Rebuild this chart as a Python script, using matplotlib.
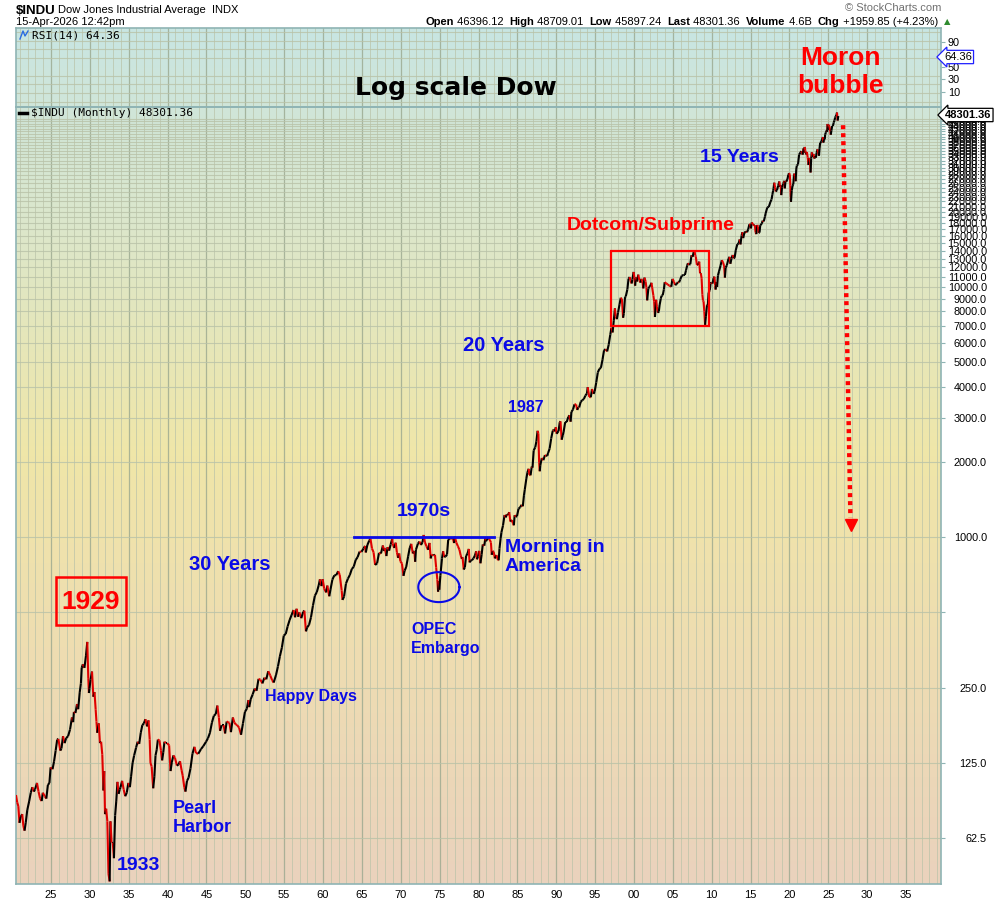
import numpy as np
import matplotlib.pyplot as plt
from matplotlib.collections import LineCollection
from matplotlib.patches import Rectangle
from matplotlib.colors import LinearSegmentedColormap

plt.rcParams['font.family'] = ['Liberation Sans', 'DejaVu Sans']

# Dow Jones Industrial Average (decimal year, close)
years = [
    1920.5, 1920.65, 1920.8, 1920.95, 1921.1, 1921.3, 1921.45, 1921.6, 1921.75, 1921.95,
    1922.2, 1922.4, 1922.6, 1922.8, 1922.95, 1923.2, 1923.4, 1923.6, 1923.8, 1923.95,
    1924.2, 1924.4, 1924.6, 1924.8, 1924.95, 1925.2, 1925.4, 1925.6, 1925.8, 1925.95,
    1926.2, 1926.35, 1926.55, 1926.75, 1926.95, 1927.2, 1927.45, 1927.7, 1927.85, 1927.95,
    1928.15, 1928.35, 1928.5, 1928.7, 1928.85, 1928.95, 1929.1, 1929.3, 1929.5, 1929.67,
    1929.8, 1929.88, 1929.95, 1930.1, 1930.28, 1930.45, 1930.6, 1930.75, 1930.85, 1930.95,
    1931.15, 1931.3, 1931.45, 1931.6, 1931.75, 1931.85, 1931.95, 1932.1, 1932.25, 1932.4,
    1932.55, 1932.65, 1932.8, 1932.95, 1933.1, 1933.25, 1933.4, 1933.55, 1933.7, 1933.85,
    1933.95, 1934.15, 1934.35, 1934.55, 1934.75, 1934.95, 1935.15, 1935.3, 1935.5, 1935.7,
    1935.95, 1936.15, 1936.35, 1936.55, 1936.75, 1936.95, 1937.15, 1937.35, 1937.55, 1937.7,
    1937.8, 1937.95, 1938.15, 1938.3, 1938.45, 1938.6, 1938.75, 1938.95, 1939.15, 1939.3,
    1939.45, 1939.6, 1939.75, 1939.95, 1940.2, 1940.38, 1940.55, 1940.75, 1940.95, 1941.2,
    1941.4, 1941.6, 1941.8, 1941.95, 1942.15, 1942.3, 1942.5, 1942.7, 1942.95, 1943.2,
    1943.45, 1943.65, 1943.95, 1944.3, 1944.6, 1944.95, 1945.2, 1945.45, 1945.7, 1945.95,
    1946.2, 1946.4, 1946.6, 1946.75, 1946.95, 1947.2, 1947.4, 1947.6, 1947.8, 1947.95,
    1948.15, 1948.4, 1948.6, 1948.8, 1948.95, 1949.2, 1949.45, 1949.7, 1949.95, 1950.2,
    1950.4, 1950.5, 1950.7, 1950.95, 1951.2, 1951.45, 1951.7, 1951.95, 1952.2, 1952.45,
    1952.7, 1952.95, 1953.2, 1953.45, 1953.65, 1953.95, 1954.2, 1954.45, 1954.7, 1954.95,
    1955.2, 1955.45, 1955.7, 1955.95, 1956.2, 1956.4, 1956.6, 1956.8, 1956.95, 1957.2,
    1957.45, 1957.6, 1957.8, 1957.95, 1958.2, 1958.45, 1958.7, 1958.95, 1959.2, 1959.45,
    1959.6, 1959.8, 1959.95, 1960.15, 1960.4, 1960.55, 1960.8, 1960.95, 1961.2, 1961.45,
    1961.7, 1961.95, 1962.15, 1962.4, 1962.5, 1962.7, 1962.95, 1963.2, 1963.45, 1963.7,
    1963.95, 1964.2, 1964.45, 1964.7, 1964.95, 1965.2, 1965.4, 1965.5, 1965.7, 1965.95,
    1966.1, 1966.3, 1966.5, 1966.7, 1966.95, 1967.2, 1967.45, 1967.7, 1967.85, 1967.95,
    1968.15, 1968.3, 1968.5, 1968.7, 1968.9, 1968.95, 1969.15, 1969.35, 1969.5, 1969.65,
    1969.8, 1969.95, 1970.15, 1970.35, 1970.5, 1970.7, 1970.95, 1971.15, 1971.35, 1971.55,
    1971.75, 1971.85, 1971.95, 1972.2, 1972.4, 1972.6, 1972.8, 1972.95, 1973.1, 1973.3,
    1973.5, 1973.7, 1973.85, 1973.95, 1974.2, 1974.4, 1974.55, 1974.7, 1974.8, 1974.9,
    1974.95, 1975.1, 1975.3, 1975.45, 1975.6, 1975.75, 1975.95, 1976.1, 1976.3, 1976.5,
    1976.7, 1976.85, 1976.95, 1977.15, 1977.35, 1977.55, 1977.7, 1977.85, 1977.95, 1978.1,
    1978.25, 1978.4, 1978.6, 1978.75, 1978.85, 1978.95, 1979.15, 1979.35, 1979.55, 1979.7,
    1979.8, 1979.95, 1980.1, 1980.25, 1980.4, 1980.55, 1980.75, 1980.88, 1980.95, 1981.1,
    1981.3, 1981.45, 1981.6, 1981.7, 1981.85, 1981.95, 1982.1, 1982.3, 1982.5, 1982.6,
    1982.7, 1982.85, 1982.95, 1983.15, 1983.35, 1983.5, 1983.65, 1983.8, 1983.95, 1984.1,
    1984.3, 1984.45, 1984.55, 1984.65, 1984.8, 1984.95, 1985.15, 1985.35, 1985.55, 1985.7,
    1985.85, 1985.95, 1986.15, 1986.3, 1986.45, 1986.55, 1986.7, 1986.85, 1986.95, 1987.1,
    1987.3, 1987.45, 1987.6, 1987.7, 1987.8, 1987.88, 1987.95, 1988.15, 1988.35, 1988.55,
    1988.7, 1988.85, 1988.95, 1989.15, 1989.35, 1989.55, 1989.7, 1989.8, 1989.95, 1990.05,
    1990.3, 1990.45, 1990.55, 1990.7, 1990.85, 1990.95, 1991.15, 1991.35, 1991.55, 1991.7,
    1991.85, 1991.95, 1992.15, 1992.35, 1992.55, 1992.7, 1992.85, 1992.95, 1993.15, 1993.35,
    1993.55, 1993.75, 1993.95, 1994.05, 1994.25, 1994.45, 1994.6, 1994.8, 1994.95, 1995.15,
    1995.35, 1995.55, 1995.75, 1995.95, 1996.15, 1996.35, 1996.55, 1996.75, 1996.95, 1997.1,
    1997.25, 1997.4, 1997.55, 1997.65, 1997.8, 1997.95, 1998.15, 1998.3, 1998.45, 1998.6,
    1998.7, 1998.85, 1998.95, 1999.15, 1999.3, 1999.45, 1999.55, 1999.7, 1999.8, 1999.95,
    2000.05, 2000.15, 2000.25, 2000.4, 2000.55, 2000.7, 2000.85, 2000.95, 2001.1, 2001.2,
    2001.35, 2001.5, 2001.6, 2001.7, 2001.85, 2001.95, 2002.1, 2002.25, 2002.35, 2002.5,
    2002.6, 2002.7, 2002.8, 2002.85, 2002.95, 2003.1, 2003.2, 2003.3, 2003.45, 2003.55,
    2003.7, 2003.85, 2003.95, 2004.15, 2004.35, 2004.55, 2004.7, 2004.8, 2004.95, 2005.15,
    2005.3, 2005.5, 2005.65, 2005.8, 2005.95, 2006.15, 2006.35, 2006.55, 2006.7, 2006.85,
    2006.95, 2007.1, 2007.25, 2007.4, 2007.55, 2007.7, 2007.8, 2007.88, 2007.95, 2008.1,
    2008.25, 2008.4, 2008.5, 2008.6, 2008.7, 2008.8, 2008.88, 2008.95, 2009.05, 2009.15,
    2009.25, 2009.4, 2009.5, 2009.6, 2009.75, 2009.85, 2009.95, 2010.1, 2010.25, 2010.35,
    2010.45, 2010.5, 2010.6, 2010.7, 2010.8, 2010.95, 2011.15, 2011.3, 2011.45, 2011.6,
    2011.7, 2011.8, 2011.95, 2012.15, 2012.3, 2012.4, 2012.55, 2012.7, 2012.85, 2012.95,
    2013.1, 2013.3, 2013.45, 2013.6, 2013.7, 2013.85, 2013.95, 2014.05, 2014.2, 2014.4,
    2014.55, 2014.7, 2014.85, 2014.95, 2015.05, 2015.15, 2015.3, 2015.45, 2015.55, 2015.65,
    2015.75, 2015.85, 2015.95, 2016.05, 2016.15, 2016.25, 2016.45, 2016.55, 2016.7, 2016.85,
    2016.95, 2017.15, 2017.35, 2017.55, 2017.7, 2017.8, 2017.9, 2017.95, 2018.05, 2018.15,
    2018.25, 2018.4, 2018.55, 2018.7, 2018.8, 2018.88, 2018.95, 2019.05, 2019.2, 2019.35,
    2019.4, 2019.5, 2019.6, 2019.75, 2019.85, 2019.95, 2020.05, 2020.12, 2020.2, 2020.3,
    2020.4, 2020.5, 2020.6, 2020.7, 2020.8, 2020.88, 2020.95, 2021.1, 2021.25, 2021.4,
    2021.55, 2021.7, 2021.8, 2021.88, 2021.95, 2022.05, 2022.15, 2022.25, 2022.35, 2022.45,
    2022.55, 2022.65, 2022.72, 2022.8, 2022.88, 2022.95, 2023.1, 2023.2, 2023.3, 2023.4,
    2023.5, 2023.6, 2023.7, 2023.8, 2023.88, 2023.95, 2024.1, 2024.2, 2024.3, 2024.35,
    2024.45, 2024.55, 2024.6, 2024.7, 2024.8, 2024.85, 2024.9, 2024.95, 2025.05, 2025.15,
    2025.25, 2025.32, 2025.4, 2025.5, 2025.6, 2025.7, 2025.8, 2025.88, 2025.95, 2026.05,
    2026.12, 2026.2, 2026.29,
]
dow = [
    93, 87, 84, 72, 76, 78, 70, 67, 72, 81,
    88, 95, 100, 96, 98, 104, 96, 90, 88, 95,
    92, 90, 102, 104, 120, 118, 127, 140, 155, 156,
    140, 143, 160, 150, 157, 160, 170, 190, 182, 200,
    198, 215, 205, 240, 260, 300, 310, 300, 335, 381,
    273, 238, 248, 270, 290, 230, 240, 204, 183, 165,
    180, 150, 152, 135, 97, 116, 78, 82, 73, 45,
    42, 73, 60, 60, 52, 77, 88, 105, 94, 98,
    100, 106, 98, 92, 95, 104, 100, 110, 125, 134,
    144, 152, 149, 165, 177, 180, 187, 175, 185, 155,
    125, 121, 99, 110, 134, 141, 155, 154, 140, 128,
    138, 152, 150, 150, 147, 116, 126, 134, 131, 122,
    123, 127, 117, 111, 100, 96, 106, 109, 119, 136,
    145, 137, 136, 142, 146, 152, 157, 165, 181, 193,
    196, 212, 190, 168, 177, 177, 164, 183, 182, 181,
    166, 190, 181, 178, 177, 173, 162, 180, 200, 206,
    223, 209, 225, 235, 248, 243, 271, 269, 260, 274,
    270, 291, 280, 268, 262, 281, 304, 334, 361, 404,
    410, 440, 466, 488, 511, 478, 517, 480, 500, 474,
    503, 508, 420, 435, 446, 478, 532, 583, 603, 643,
    678, 637, 679, 622, 601, 640, 580, 615, 676, 703,
    705, 731, 706, 611, 561, 578, 652, 682, 706, 745,
    762, 810, 832, 875, 874, 900, 922, 868, 930, 969,
    985, 900, 870, 774, 785, 865, 860, 926, 880, 905,
    840, 912, 883, 935, 985, 944, 905, 950, 870, 826,
    860, 800, 785, 700, 734, 760, 839, 905, 940, 860,
    880, 797, 890, 940, 960, 930, 955, 1020, 955, 920,
    890, 948, 822, 850, 846, 850, 757, 678, 605, 665,
    616, 703, 821, 878, 832, 836, 852, 975, 990, 985,
    991, 947, 1004, 950, 920, 890, 847, 818, 831, 742,
    757, 840, 862, 897, 792, 805, 808, 822, 846, 878,
    815, 838, 881, 786, 850, 935, 924, 993, 964, 975,
    998, 976, 952, 850, 880, 875, 822, 848, 811, 808,
    901, 991, 1046, 1112, 1226, 1199, 1233, 1225, 1258, 1154,
    1170, 1132, 1115, 1224, 1207, 1212, 1299, 1315, 1347, 1328,
    1472, 1546, 1709, 1818, 1876, 1775, 1767, 1915, 1896, 2223,
    2286, 2418, 2662, 2596, 1994, 1834, 1939, 2072, 2031, 2129,
    2113, 2115, 2169, 2258, 2480, 2661, 2693, 2645, 2753, 2591,
    2656, 2880, 2905, 2452, 2560, 2634, 2882, 2888, 3024, 3069,
    2895, 3169, 3235, 3397, 3394, 3226, 3305, 3301, 3478, 3528,
    3567, 3681, 3754, 3978, 3636, 3625, 3913, 3739, 3834, 4157,
    4556, 4708, 4756, 5117, 5587, 5643, 5529, 5882, 6448, 6877,
    6584, 7331, 8223, 7622, 7442, 7908, 8546, 9063, 8952, 7539,
    7843, 9117, 9181, 9786, 10789, 10971, 10655, 10337, 10729, 11497,
    10940, 10128, 10922, 10522, 11215, 10651, 10415, 10788, 10495, 9879,
    10912, 10523, 9950, 8848, 9852, 10021, 10106, 10404, 9925, 9243,
    8737, 7592, 8397, 8896, 8342, 7891, 7992, 8480, 8985, 9233,
    9275, 9782, 10454, 10357, 10225, 10140, 10080, 10027, 10783, 10504,
    10193, 10275, 10481, 10440, 10718, 11109, 11168, 11185, 11679, 12221,
    12463, 12269, 12354, 13408, 13212, 13896, 13930, 13371, 13264, 12266,
    12262, 12638, 11350, 11378, 10851, 9325, 8829, 8776, 8000, 7062,
    7609, 8500, 8447, 9496, 9713, 10345, 10428, 10325, 10857, 11009,
    10137, 9774, 10466, 10014, 11118, 11578, 12226, 12810, 12570, 12143,
    10913, 11955, 12218, 12952, 13212, 12393, 13009, 13437, 13025, 13104,
    14054, 14839, 14910, 15500, 14810, 16086, 16577, 15699, 16458, 16717,
    16563, 17043, 17828, 17823, 17165, 18133, 17840, 17620, 17690, 16528,
    16285, 17720, 17425, 16466, 16517, 17685, 17930, 18432, 18308, 19124,
    19763, 20812, 20941, 21891, 22405, 23377, 24272, 24719, 26149, 25029,
    24103, 24416, 25415, 26458, 25116, 25538, 23327, 24999, 25929, 26593,
    24815, 26600, 26403, 27046, 28051, 28538, 28256, 25409, 21917, 24346,
    25383, 25813, 28430, 27782, 26502, 29639, 30606, 30932, 33875, 34529,
    34935, 33844, 35820, 34484, 36338, 35132, 33893, 34678, 32977, 30775,
    32845, 31510, 28725, 32733, 34590, 33147, 34086, 32657, 33274, 32908,
    34408, 35560, 34722, 33508, 35951, 37690, 38150, 38996, 39807, 37816,
    38686, 39119, 40843, 41563, 42330, 41763, 44910, 42544, 44544, 43841,
    42001, 40669, 42270, 44094, 44130, 45545, 46397, 47716, 48063, 48892,
    49900, 46341, 48301,
]

x_ticks = list(range(1925, 2040, 5))
x_labels = [f"{y % 100:02d}" for y in x_ticks]
y_ticks = [62.5, 125, 250, 500] + list(range(1000, 48000, 1000))
y_labels = ["" if v == 500 else f"{v:.1f}" for v in y_ticks]
rsi_ticks = [10, 30, 50, 70, 90]
last_value = 48301.36
rsi_last = 64.36
header_stats = [("Open", "46396.12"), ("High", "48709.01"), ("Low", "45897.24"),
                ("Last", "48301.36"), ("Volume", "4.6B"), ("Chg", "+1959.85 (+4.23%)")]

W, H = 1000, 900
L, R, T_RSI, T_MAIN, B = 16, 941, 28, 107, 884


def fx(px):
    return px / W


def fy(py):
    return 1 - py / H


fig = plt.figure(figsize=(10, 9), dpi=100)
fig.patch.set_facecolor('white')

# gradient background behind both panels
bg = fig.add_axes([fx(L), fy(B), fx(R) - fx(L), fy(T_RSI) - fy(B)], zorder=0)
cmap = LinearSegmentedColormap.from_list('bg', [
    (0.0, '#c8e5e2'), (0.22, '#dbe7cc'), (0.5, '#f0e6a8'),
    (0.75, '#eedcb2'), (1.0, '#ead2bd')])
bg.imshow(np.linspace(0, 1, 256).reshape(-1, 1), aspect='auto', cmap=cmap,
          extent=[0, 1, 0, 1], origin='upper')
bg.axis('off')

spine_col = '#8fb4b4'
grid_major = '#9aa88f'
grid_minor = '#b9c2a8'

# ---- main price panel ----
ax = fig.add_axes([fx(L), fy(B), fx(R) - fx(L), fy(T_MAIN) - fy(B)], zorder=1)
ax.patch.set_alpha(0)
ax.set_yscale('log')
ax.set_xlim(1920.5, 2039.5)
ax.set_ylim(41, 52500)

ax.set_xticks(x_ticks, labels=x_labels)
ax.set_xticks(np.arange(1921, 2040, 1), minor=True)
ax.yaxis.tick_right()
ax.set_yticks(y_ticks, labels=y_labels)
ax.yaxis.set_minor_locator(plt.NullLocator())
ax.tick_params(axis='x', which='both', length=0, pad=4, labelsize=8)
ax.tick_params(axis='y', which='major', length=3, color=spine_col, pad=30, labelsize=7.8)
for lab in ax.get_yticklabels():
    lab.set_horizontalalignment('right')
ax.grid(axis='x', which='major', color=grid_major, lw=0.9, alpha=0.8)
ax.grid(axis='x', which='minor', color=grid_minor, lw=0.7, alpha=0.7)
ax.grid(axis='y', which='major', color=grid_minor, lw=0.8, alpha=0.8)
ax.set_axisbelow(True)
for s in ax.spines.values():
    s.set_color(spine_col)
    s.set_linewidth(1.2)

pts = np.column_stack([years, dow])
segs = np.stack([pts[:-1], pts[1:]], axis=1)
cols = ['#e00000' if b < a else 'black' for a, b in zip(dow[:-1], dow[1:])]
ax.add_collection(LineCollection(segs, colors=cols, linewidths=1.5, zorder=3))

# annotations in data space
ax.add_patch(Rectangle((1997.0, 6985), 12.7, 13960 - 6985, fill=False,
                       edgecolor='#ff0000', lw=1.6, zorder=4))
ax.plot([1964.0, 1982.0], [1000, 1000], color='#0a0ae6', lw=2, zorder=4)
t = np.linspace(0, 2 * np.pi, 200)
ax.plot(1974.9 + 2.65 * np.cos(t), 631 * 10 ** (0.06 * np.sin(t)),
        color='#0a0ae6', lw=1.5, zorder=4)
ax.plot([2026.9, 2027.85], [44400, 1200], color='#ff0000', lw=3.2,
        ls=(0, (0.9, 0.9)), zorder=4)
ax.plot([2027.9], [1120], marker='v', color='#ff0000', ms=9, zorder=4)

# ---- RSI panel ----
rx = fig.add_axes([fx(L), fy(T_MAIN), fx(R) - fx(L), fy(T_RSI) - fy(T_MAIN)], zorder=1)
rx.patch.set_alpha(0)
rx.set_xlim(1920.5, 2039.5)
rx.set_ylim(-14, 112)
rx.set_xticks(x_ticks)
rx.set_xticks(np.arange(1921, 2040, 1), minor=True)
rx.set_xticklabels([])
rx.yaxis.tick_right()
rx.set_yticks(rsi_ticks, labels=[str(v) for v in rsi_ticks])
rx.set_yticks(np.arange(-6, 110, 14), minor=True)
rx.tick_params(axis='x', which='both', length=0)
rx.tick_params(axis='y', which='major', length=3, color=spine_col, pad=2, labelsize=7.8)
rx.tick_params(axis='y', which='minor', length=0)
rx.grid(axis='x', which='major', color=grid_major, lw=0.9, alpha=0.8)
rx.grid(axis='x', which='minor', color=grid_minor, lw=0.7, alpha=0.7)
rx.grid(axis='y', which='minor', color=grid_minor, lw=0.8, alpha=0.8)
for s in rx.spines.values():
    s.set_color(spine_col)
    s.set_linewidth(1.2)

# value flags on right axis
fig.text(fx(944), fy(57), f"{rsi_last:.2f}", fontsize=8, va='center', ha='left', zorder=10,
         bbox=dict(boxstyle='larrow,pad=0.15', fc='white', ec='#2020ff', lw=0.9))
fig.text(fx(945), fy(115), f"{last_value:.2f}", fontsize=8, fontweight='bold', va='center',
         ha='left', zorder=10,
         bbox=dict(boxstyle='larrow,pad=0.15', fc='white', ec='black', lw=0.9))

# ---- header ----
fig.text(fx(16), fy(11), "$INDU", fontsize=9.5, fontweight='bold', va='center')
fig.text(fx(58), fy(10), "Dow Jones Industrial Average  INDX", fontsize=8, va='center')
fig.text(fx(16), fy(22), "15-Apr-2026 12:42pm", fontsize=8, va='center')
fig.text(fx(941), fy(8), "\u00a9 StockCharts.com", fontsize=8, color='#707070',
         va='center', ha='right')

# chain the bold keys and values one after the other
anchor = fig.text(fx(425), fy(22), "Open", fontsize=8, fontweight='bold', va='center')
prev_anchor = None
for i, (key, val) in enumerate(header_stats):
    if i > 0:
        anchor = plt.annotate(key, xy=(1, 0), xycoords=prev_anchor, fontsize=8,
                              fontweight='bold', va='bottom', ha='left', annotation_clip=False)
    prev_anchor = plt.annotate(" " + val + "  ", xy=(1, 0), xycoords=anchor, fontsize=8,
                               va='bottom', ha='left', annotation_clip=False)
plt.annotate("\u25b2", xy=(1, 0.1), xycoords=prev_anchor, fontsize=6, color='#2e8b2e',
             va='bottom', ha='left', family=['DejaVu Sans'])

fig.text(fx(32), fy(35), "RSI(14) 64.36", fontsize=8, va='center', family=['DejaVu Sans Mono'])
fig.lines.append(plt.Line2D([fx(20), fx(23), fx(25), fx(28)], [fy(39), fy(31), fy(36), fy(31)],
                            transform=fig.transFigure, color='#2a6be0', lw=1))
fig.lines.append(plt.Line2D([fx(19), fx(27)], [fy(113), fy(113)],
                            transform=fig.transFigure, color='black', lw=2.5))
fig.text(fx(31), fy(113), "$INDU (Monthly) 48301.36", fontsize=8, va='center',
         family=['DejaVu Sans Mono'])

# ---- chart annotations ----
blue = '#0a0ae6'
red = '#ff0000'
fig.text(fx(456), fy(88), "Log scale Dow", fontsize=18, fontweight='bold', ha='center',
         va='center', family=['DejaVu Sans'], zorder=5)
fig.text(fx(840), fy(72), "Moron\nbubble", fontsize=19, fontweight='bold', color=red,
         ha='center', va='center', linespacing=1.2, zorder=5)
fig.text(fx(700), fy(157), "15 Years", fontsize=14, fontweight='bold', color=blue, va='center', zorder=5)
fig.text(fx(567), fy(226), "Dotcom/Subprime", fontsize=14, fontweight='bold', color=red, va='center', zorder=5)
fig.text(fx(463), fy(346), "20 Years", fontsize=14.5, fontweight='bold', color=blue, va='center', zorder=5)
fig.text(fx(508), fy(407), "1987", fontsize=11.5, fontweight='bold', color=blue, va='center', zorder=5)
fig.text(fx(397), fy(512), "1970s", fontsize=14, fontweight='bold', color=blue, va='center', zorder=5)
fig.text(fx(189), fy(564), "30 Years", fontsize=14.5, fontweight='bold', color=blue, va='center', zorder=5)
fig.text(fx(505), fy(557), "Morning in\nAmerica", fontsize=14, fontweight='bold', color=blue,
         va='center', linespacing=1.1, zorder=5)
fig.text(fx(411), fy(639), "OPEC\nEmbargo", fontsize=11.5, fontweight='bold', color=blue,
         va='center', linespacing=1.25, zorder=5)
fig.text(fx(265), fy(696), "Happy Days", fontsize=11.5, fontweight='bold', color=blue, va='center', zorder=5)
fig.text(fx(173), fy(818), "Pearl\nHarbor", fontsize=13, fontweight='bold', color=blue,
         va='center', linespacing=1.15, zorder=5)
fig.text(fx(117), fy(865), "1933", fontsize=14, fontweight='bold', color=blue, va='center', zorder=5)
fig.text(fx(91), fy(602), "1929", fontsize=19, fontweight='bold', color=red, ha='center',
         va='center', zorder=5)
fig.patches.append(Rectangle((fx(56), fy(625)), fx(126) - fx(56), fy(577) - fy(625),
                             transform=fig.transFigure, fill=False, edgecolor=red, lw=1.8))

fig.savefig('out.png', dpi=100)
